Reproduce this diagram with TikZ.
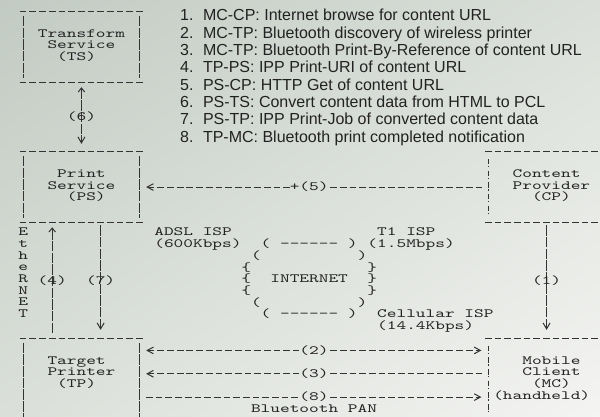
\documentclass[tikz,border=0pt]{standalone}
\usepackage{fontspec}
\usepackage{tikz}
\usetikzlibrary{arrows.meta,calc,shadings}
\setmainfont{Liberation Sans}
\newfontfamily\asciiface[FakeStretch=1.465,WordSpace={1,0,0}]{lmmono10-regular.otf}
\definecolor{Ink}{HTML}{222222}
\definecolor{Rule}{HTML}{333333}
\definecolor{BgDark}{HTML}{C2CBC3}
\definecolor{BgMid}{HTML}{DAE0D9}
\definecolor{BgLight}{HTML}{F4F4F2}
\newcommand\asciifont{\asciiface\fontsize{12.6}{11.67}\selectfont\lineskiplimit=-\maxdimen}
\newcommand\cellstrut{\rule[-3.8pt]{0pt}{15.3pt}}

\begin{document}
\begin{tikzpicture}[
  x=9.69pt, y=-11.67pt,
  txt/.style={font=\asciifont, text=Ink, inner sep=0pt, align=center, execute at begin node=\cellstrut, execute at end node=\cellstrut},
  box/.style={txt, minimum width=116.28pt, minimum height=70.02pt},
  tallbox/.style={box, minimum height=81.69pt},
  edgeh/.style={draw=Rule, line width=1.1pt, dash pattern=on 6.7pt off 2.99pt, shorten <=-3.35pt, shorten >=-3.35pt},
  edgev/.style={draw=Rule, line width=1.1pt, dash pattern=on 10.5pt off 1.17pt, shorten <=4.1pt, shorten >=4.1pt},
  edgebang/.style={draw=Rule, line width=1.1pt, dash pattern=on 5.6pt off 1.4pt on 1.5pt off 3.17pt, shorten <=7pt, shorten >=7.8pt},
  hconn/.style={draw=Rule, line width=1.1pt, dash pattern=on 6.7pt off 2.99pt},
  vconn/.style={draw=Rule, line width=1.1pt, dash pattern=on 10.5pt off 1.17pt},
  chev/.tip={Straight Barb[length=6.2pt, width=6.7pt, line width=1pt]},
  vee/.tip={Straight Barb[length=6pt, width=7pt, line width=1pt]},
  caret/.tip={Straight Barb[length=4pt, width=6.5pt, line width=1pt]},
  nub/.tip={Bar[width=0pt, line width=0.01pt]}
]
\useasboundingbox (-2.4045,-1.0283) rectangle (59.515,34.704);
\shade[upper left=BgDark, upper right=BgMid, lower left=BgMid, lower right=BgLight] (-2.4045,-1.0283) rectangle (59.515,34.704);
\clip (-2.4045,-1.0283) rectangle (59.515,34.704);

% the boxes
\node[box] (ts) at (6,3) {Transform\\Service\\(TS)\hphantom{x}};
\node[box] (ps) at (6,15) {Print\\Service\\\hphantom{x}(PS)};
\node[box] (cp) at (54,15) {Content\\\hphantom{x}Provider\\\hphantom{x}(CP)};
\node[tallbox] (tp) at (6,31.5) {Target\hphantom{x}\\Printer\\(TP)\hphantom{x}\\};
\node[tallbox] (mc) at (54,31.5) {\hphantom{x}Mobile\\\hphantom{x}Client\\\hphantom{x}(MC)\\(handheld)\hphantom{x}};
\foreach \b in {ts,ps,tp} {
  \draw[edgeh] (\b.north west) -- (\b.north east);
  \draw[edgeh] (\b.south west) -- (\b.south east);
  \draw[edgev] (\b.north west) -- (\b.south west);
  \draw[edgev] (\b.north east) -- (\b.south east);
}
\foreach \b in {cp,mc} {
  \draw[edgeh] (\b.north west) -- (\b.north east);
  \draw[edgeh] (\b.south west) -- (\b.south east);
  \draw[edgebang] (\b.north west) -- (\b.south west);
}

% the network
\node[txt] (eth) at (0,22.5) {E\\t\\h\\e\\R\\N\\E\\T};
\node[txt, align=left, anchor=west] (adsl) at (13.5,19.5) {ADSL ISP\\(600Kbps)};
\node[txt, align=left, anchor=west] (t1) at (35.5,19.5) {\hphantom{x}T1 ISP\\(1.5Mbps)};
\node[txt, align=left, anchor=west] (cell) at (36.5,26.5) {Cellular ISP\\(14.4Kbps)};
\node[txt] (inet) at (29.5,23) {( -{}-{}-{}-{}-{}- )\\(~~~~~~~~~~)\\\{~~~~~~~~~~~~\}\\\{~~INTERNET~~\}\\\{~~~~~~~~~~~~\}\\(~~~~~~~~~~)\\( -{}-{}-{}-{}-{}- )};

% the flows
\draw[vconn, {caret[] nub[sep=5.6pt]}-{nub[sep=2.5pt] vee[]}, shorten <=5pt, shorten >=8pt] (ts.south) -- node[txt] (l6) {(6)} (ps.north);
\draw[vconn, -{nub[sep=5.6pt] caret[]}, shorten <=5.4pt, shorten >=5pt] ($(tp.north west)+(3,0)$) -- node[txt] (l4) {(4)} ($(ps.south west)+(3,0)$);
\draw[vconn, -{nub[sep=2.5pt] vee[]}, shorten <=3pt, shorten >=8.7pt] ($(ps.south west)+(8,0)$) -- node[txt] (l7) {(7)} ($(tp.north west)+(8,0)$);
\draw[vconn, -{nub[sep=2.5pt] vee[]}, shorten <=3pt, shorten >=8.7pt] (cp.south) -- node[txt] (l1) {(1)} (mc.north);

\node[txt] (l5) at (29.5,15) {+(5)};
\draw[hconn, {chev[] nub[sep=2.9pt]}-, shorten <=6.4pt] (ps.east) -- (l5);
\draw[hconn, shorten <=1.45pt, shorten >=4.85pt] (l5) -- (cp.west);

\node[txt] (l2) at (30,29) {(2)};
\draw[hconn, {chev[] nub[sep=2.9pt]}-, shorten <=6.4pt] (l2 -| tp.east) -- (l2);
\draw[hconn, -{nub[sep=2.5pt] chev[]}, shorten <=1.45pt, shorten >=6.8pt] (l2) -- (l2 -| mc.west);

\node[txt] (l3) at (30,31) {(3)};
\draw[hconn, {chev[] nub[sep=2.9pt]}-, shorten <=6.4pt] (l3 -| tp.east) -- (l3);
\draw[hconn, shorten <=1.45pt, shorten >=4.85pt] (l3) -- (l3 -| mc.west);

\node[txt] (l8) at (30,33) {(8)};
\draw[hconn, shorten <=6.3pt] (l8 -| tp.east) -- (l8);
\draw[hconn, -{nub[sep=2.5pt] chev[]}, shorten <=1.45pt, shorten >=6.8pt] (l8) -- (l8 -| mc.west);
\node[txt] (pan) at (30,34) {Bluetooth PAN};

% the steps
\node[anchor=base west, inner sep=0pt, text=Ink, font=\fontsize{16}{17.35}\selectfont] (steps) at (16.17,0.7455) {\begin{tabular}[t]{@{}l@{\hspace{9.5pt}}l@{}}
1. & MC-CP: Internet browse for content URL\\
2. & MC-TP: Bluetooth discovery of wireless printer\\
3. & MC-TP: Bluetooth Print-By-Reference of content URL\\
4. & TP-PS: IPP Print-URI of content URL\\
5. & PS-CP: HTTP Get of content URL\\
6. & PS-TS: Convert content data from HTML to PCL\\
7. & PS-TP: IPP Print-Job of converted content data\\
8. & TP-MC: Bluetooth print completed notification
\end{tabular}};
\end{tikzpicture}
\end{document}
